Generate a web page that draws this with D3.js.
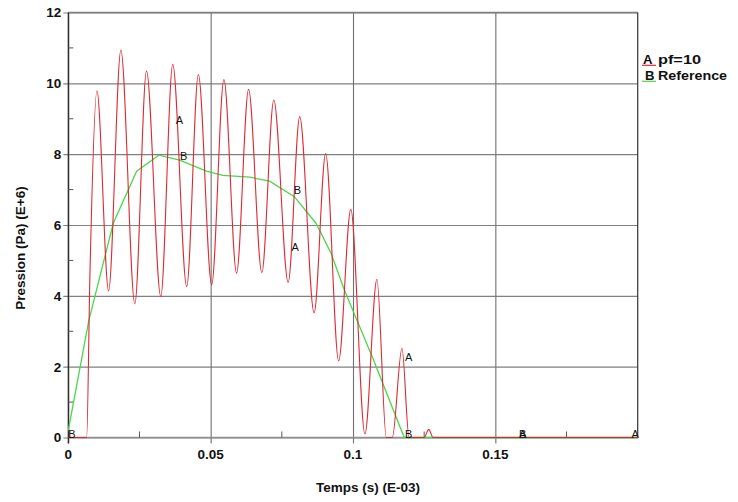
<!DOCTYPE html>
<html><head><meta charset="utf-8">
<script src="https://cdn.jsdelivr.net/npm/d3@7"></script>
<style>
body{margin:0;background:#fff}
text{font-family:"Liberation Sans",Arial,Helvetica,sans-serif}
</style>
</head><body>
<svg id="chart" width="738" height="502"></svg>
<script>
// ---- data ----
const xTicks = [0, 0.05, 0.1, 0.15];
const xTickLabels = ["0", "0.05", "0.1", "0.15"];
const xMinorTicks = [0.025, 0.075, 0.125, 0.175];
const yTicks = [0, 2, 4, 6, 8, 10, 12];
const yMinorTicks = [1, 3, 5, 7, 9, 11];

// Series A : pf=10
const timeA = [0, 0.00645, 0.0076, 0.01006, 0.01416, 0.01847, 0.02337, 0.02747, 0.03248, 0.03669, 0.04159,
  0.04569, 0.05035, 0.05466, 0.05911, 0.06332, 0.06798, 0.07218, 0.07723, 0.08129, 0.08634, 0.0904,
  0.09496, 0.09923, 0.1042, 0.1084, 0.1117, 0.1138, 0.1172, 0.1197, 0.125, 0.1266, 0.1281, 0.2];
const presA = [0, 0, 4.6, 9.79, 4.14, 10.94, 3.77, 10.35, 3.98, 10.54, 4.26,
  10.25, 4.31, 10.11, 4.64, 9.83, 4.66, 9.53, 4.38, 9.06, 3.52, 8.02,
  2.16, 6.44, 0.1, 4.47, 0, 0, 2.52, 0, 0, 0.23, 0, 0];

// Series B : Reference
const timeB = [0, 0.0072, 0.0158, 0.024, 0.0318, 0.0391, 0.0485, 0.0543, 0.0637, 0.0707, 0.0794, 0.087, 0.0923, 0.097, 0.1069, 0.118, 0.2];
const presB = [0.2, 3.3, 6.05, 7.52, 7.97, 7.83, 7.52, 7.4, 7.35, 7.24, 6.8, 6.05, 5.2, 4.16, 2.25, 0, 0];

// curve marker labels (data coordinates)
const labelA_t = [0.0377, 0.0784, 0.1183, 0.1583, 0.1978];
const labelA_p = [8.85, 5.27, 2.16, 0, 0];
const labelB_t = [0, 0.0392, 0.0792, 0.1183, 0.1583];
const labelB_p = [0, 7.83, 6.87, 0, 0];

const legendKeys = ["A", "B"];
const legendNames = ["pf=10", "Reference"];
const seriesColors = ["#dc2a32", "#4cd64c"];

const xTitle = "Temps (s) (E-03)";
const yTitle = "Pression (Pa) (E+6)";

// ---- drawing ----
const svg = d3.select("#chart");
const L = 68.3, R = 637.7, T = 12.5, B = 437.5;
const x = d3.scaleLinear().domain([0, 0.2]).range([L, R]);
const y = d3.scaleLinear().domain([0, 12]).range([B, T]);

// horizontal gridlines (extend 5px left of axis)
svg.append("g").attr("transform", `translate(${L},0)`)
  .call(d3.axisLeft(y).tickValues(yTicks).tickSize(-(R - L)).tickSizeOuter(0).tickFormat(""))
  .call(g => g.select(".domain").remove())
  .call(g => g.selectAll("line").attr("x1", -5).attr("stroke", "#808080").attr("stroke-width", 1.2));

// vertical gridlines
svg.append("g").attr("transform", `translate(0,${B})`)
  .call(d3.axisBottom(x).tickValues(xTicks).tickSize(-(B - T)).tickFormat(""))
  .call(g => g.select(".domain").remove())
  .call(g => g.selectAll("line").attr("y1", 6).attr("stroke", "#707070").attr("stroke-width", 1.1));

// frame
svg.append("line").attr("x1", L).attr("x2", R).attr("y1", T).attr("y2", T).attr("stroke", "#808080").attr("stroke-width", 1.4);
svg.append("line").attr("x1", L).attr("x2", R).attr("y1", B).attr("y2", B).attr("stroke", "#909090").attr("stroke-width", 1.4);
svg.append("line").attr("x1", L).attr("x2", L).attr("y1", T).attr("y2", B + 6).attr("stroke", "#222").attr("stroke-width", 1.2);
svg.append("line").attr("x1", R).attr("x2", R).attr("y1", T).attr("y2", B).attr("stroke", "#333").attr("stroke-width", 1.2);

// minor ticks (inside)
svg.append("g").selectAll("line").data(yMinorTicks).join("line")
  .attr("x1", L).attr("x2", L + 5).attr("y1", d => y(d)).attr("y2", d => y(d))
  .attr("stroke", "#555").attr("stroke-width", 1);
svg.append("g").selectAll("line").data(xMinorTicks).join("line")
  .attr("x1", d => x(d)).attr("x2", d => x(d)).attr("y1", B).attr("y2", B - 6)
  .attr("stroke", "#555").attr("stroke-width", 1);

// tick labels
svg.append("g").selectAll("text").data(yTicks).join("text")
  .attr("x", L - 7).attr("y", d => y(d)).attr("dy", "0.36em")
  .attr("text-anchor", "end").attr("font-size", 13.5).attr("font-weight", "bold").attr("fill", "#111")
  .text(d => d);
svg.append("g").selectAll("text").data(xTicks).join("text")
  .attr("x", d => x(d)).attr("y", B + 21)
  .attr("text-anchor", "middle").attr("font-size", 13.5).attr("font-weight", "bold").attr("fill", "#111")
  .text((d, i) => xTickLabels[i]);

// axis titles
svg.append("text").attr("x", 368).attr("y", 492).attr("text-anchor", "middle")
  .attr("font-size", 13.5).attr("font-weight", "bold").attr("fill", "#111").text(xTitle);
svg.append("text").attr("transform", "translate(25,248) rotate(-90)").attr("text-anchor", "middle")
  .attr("font-size", 13.5).attr("font-weight", "bold").attr("fill", "#111").text(yTitle);

// lines
const lineA = d3.line().x(d => x(d[0])).y(d => y(d[1])).curve(d3.curveMonotoneX);
const lineB = d3.line().x(d => x(d[0])).y(d => y(d[1]));
svg.append("path").datum(timeB.map((t, i) => [t, presB[i]]))
  .attr("d", lineB).attr("fill", "none").attr("stroke", seriesColors[1]).attr("stroke-width", 1.3);
svg.append("path").datum(timeA.map((t, i) => [t, presA[i]]))
  .attr("d", lineA).attr("fill", "none").attr("stroke", seriesColors[0]).attr("stroke-width", 1.1);

// curve labels
svg.append("g").selectAll("text").data(labelB_t).join("text")
  .attr("x", d => x(d)).attr("y", (d, i) => y(labelB_p[i]))
  .attr("font-size", 11).attr("fill", "#111").text("B");
svg.append("g").selectAll("text").data(labelA_t).join("text")
  .attr("x", d => x(d)).attr("y", (d, i) => y(labelA_p[i]))
  .attr("font-size", 11).attr("fill", "#111").text("A");

// legend
const lg = svg.append("g");
legendKeys.forEach((k, i) => {
  const by = 63.5 + i * 16;
  lg.append("line").attr("x1", 642).attr("x2", 656).attr("y1", by + 1.8).attr("y2", by + 1.8)
    .attr("stroke", seriesColors[i]).attr("stroke-width", 1.2);
  lg.append("text").attr("x", 643 + i * 2).attr("y", by).attr("font-size", 12).attr("font-weight", "bold")
    .attr("fill", "#111").attr("textLength", 9.5).attr("lengthAdjust", "spacingAndGlyphs").text(k);
  lg.append("text").attr("x", 658).attr("y", by).attr("font-size", 12).attr("font-weight", "bold")
    .attr("fill", "#111").attr("textLength", i === 0 ? 43 : 69).attr("lengthAdjust", "spacingAndGlyphs").text(legendNames[i]);
});
</script>
</body></html>
